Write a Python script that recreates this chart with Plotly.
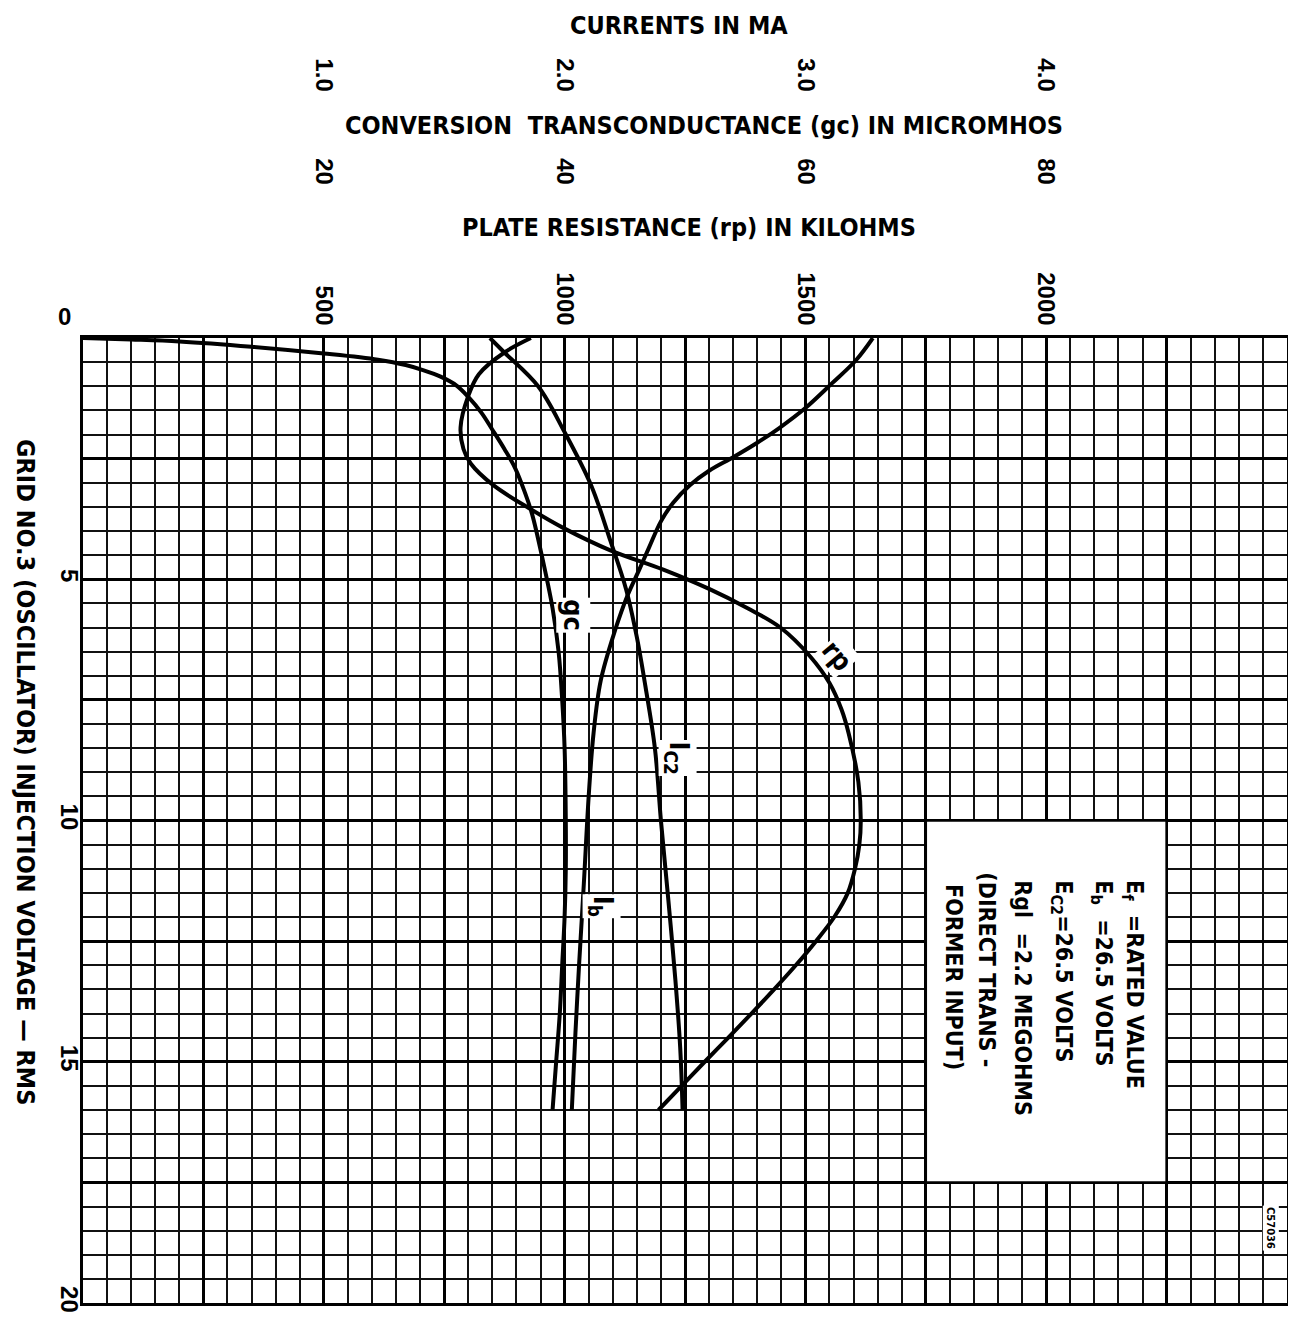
import plotly.graph_objects as go

# ---------------- data ----------------
# Grid No.3 injection voltage (V rms) vs each quantity
gc_v = [0, 0.03, 0.07, 0.18, 0.32, 0.45, 0.56, 0.67, 0.8, 0.98, 1.22, 1.55, 1.9, 2.3, 2.7,
        3.2, 3.65, 4.5, 5.6, 6.5, 7.5, 8.5, 10, 11, 12, 13, 14, 15, 16]
gc_umho = [0, 4, 8, 14, 20, 24.5, 26.8, 28.3, 29.7, 31, 32, 33.1, 34, 35, 35.9,
           36.7, 37.3, 38.1, 39, 39.5, 39.8, 40, 40.1, 40.1, 40, 39.8, 39.6, 39.3, 39]

ib_v = [0, 0.46, 0.94, 1.45, 1.87, 2.17, 2.47, 2.75, 3.05, 3.42, 3.8, 4.35, 4.8, 5.35,
        6.05, 7.1, 8.2, 9.5, 11.3, 13, 14.4, 16]
ib_ma = [3.28, 3.21, 3.11, 3.00, 2.89, 2.80, 2.70, 2.60, 2.52, 2.45, 2.40, 2.35, 2.31, 2.26,
         2.21, 2.15, 2.12, 2.10, 2.08, 2.06, 2.045, 2.03]

ic2_v = [0, 0.3, 1.0, 1.95, 3.05, 4.2, 5.2, 6.2, 7.2, 8.5, 10, 11.6, 13.3, 14.7, 16]
ic2_ma = [1.69, 1.75, 1.89, 2.00, 2.11, 2.19, 2.255, 2.30, 2.335, 2.375, 2.40, 2.43, 2.46, 2.48, 2.49]

rp_v = [0, 0.3, 0.75, 1.2, 1.85, 2.3, 2.6, 3.05, 3.55, 3.95, 4.4, 4.8, 5.2, 5.6, 6.0, 6.6,
        7.15, 7.7, 8.2, 9.2, 10, 10.5, 11, 11.5, 12, 12.5, 13, 13.5, 14, 14.5, 15, 15.5, 16]
rp_kohm = [930, 875, 822, 800, 784, 790, 805, 852, 930, 1000, 1095, 1205, 1300, 1380, 1448, 1510,
           1550, 1575, 1590, 1610, 1615, 1612, 1603, 1588, 1560, 1522, 1480, 1435, 1388, 1340,
           1291, 1243, 1195]

# axis ticks
rp_tickvals = [0, 250, 500, 750, 1000, 1250, 1500, 1750, 2000, 2250, 2500]
rp_ticktext = ["", "", "500", "", "1000", "", "1500", "", "2000", "", ""]
gc_tickvals = [20, 40, 60, 80]
gc_ticktext = ["20", "40", "60", "80"]
ma_tickvals = [1, 2, 3, 4]
ma_ticktext = ["1.0", "2.0", "3.0", "4.0"]
v_tickvals = [0, 2.5, 5, 7.5, 10, 12.5, 15, 17.5, 20]
v_ticktext = ["", "", "5", "", "10", "", "15", "", "20"]

conditions = [
    "E<sub>f</sub>\u00a0 =RATED VALUE",
    "E<sub>b</sub>\u00a0 =26.5 VOLTS",
    "E<sub>C2</sub>=26.5 VOLTS",
    "Rgl\u00a0 =2.2 MEGOHMS",
    "(DIRECT TRANS -",
    "FORMER INPUT)",
]

# ---------------- figure ----------------
HEAD = "Liberation Sans Narrow, DejaVu Sans Condensed, Liberation Sans, sans-serif"
NUM = "Liberation Sans, Arial, sans-serif"
BOLD = "bold"

fig = go.Figure()
line = dict(color="black", width=4, shape="spline", smoothing=1.0)
fig.add_trace(go.Scatter(x=rp_kohm, y=rp_v, mode="lines", line=line, xaxis="x", yaxis="y", name="rp"))
fig.add_trace(go.Scatter(x=gc_umho, y=gc_v, mode="lines", line=line, xaxis="x2", yaxis="y", name="gc"))
fig.add_trace(go.Scatter(x=ib_ma, y=ib_v, mode="lines", line=line, xaxis="x3", yaxis="y", name="Ib"))
fig.add_trace(go.Scatter(x=ic2_ma, y=ic2_v, mode="lines", line=line, xaxis="x3", yaxis="y", name="Ic2"))

tickfont = dict(family=NUM, size=24, color="black", weight=BOLD)

fig.update_layout(
    width=1280, height=1309,
    margin=dict(l=75, r=1, t=2, b=14, autoexpand=False),
    plot_bgcolor="white", paper_bgcolor="white",
    showlegend=False,
    xaxis=dict(
        range=[0, 2500], side="top", anchor="y", automargin=False,
        tickmode="array", tickvals=rp_tickvals, ticktext=rp_ticktext,
        tickangle=90, tickfont=tickfont, ticks="", ticklabelstandoff=1,
        showgrid=True, gridcolor="black", gridwidth=2.8,
        minor=dict(tickmode="linear", tick0=0, dtick=50, showgrid=True,
                   gridcolor="#111111", gridwidth=1.6),
        showline=True, linecolor="black", linewidth=3, mirror=True, zeroline=False,
    ),
    xaxis2=dict(
        range=[0, 100], overlaying="x", side="top", anchor="free", position=0.862,
        automargin=False,
        tickmode="array", tickvals=gc_tickvals, ticktext=gc_ticktext,
        tickangle=90, tickfont=tickfont, ticks="",
        showgrid=False, showline=False, zeroline=False,
    ),
    xaxis3=dict(
        range=[0, 5], overlaying="x", side="top", anchor="free", position=0.934,
        automargin=False,
        tickmode="array", tickvals=ma_tickvals, ticktext=ma_ticktext,
        tickangle=90, tickfont=tickfont, ticks="",
        showgrid=False, showline=False, zeroline=False,
    ),
    yaxis=dict(
        range=[20, 0], domain=[0, 0.7463], automargin=False,
        tickmode="array", tickvals=v_tickvals, ticktext=v_ticktext,
        tickangle=90, tickfont=tickfont, ticks="", ticklabelstandoff=-10,
        showgrid=True, gridcolor="black", gridwidth=2.8,
        minor=dict(tickmode="linear", tick0=0, dtick=0.5, showgrid=True,
                   gridcolor="#111111", gridwidth=1.6),
        showline=True, linecolor="black", linewidth=3, mirror=True, zeroline=False,
    ),
)

# conditions box
fig.add_shape(type="rect", xref="x", yref="y", x0=1750, x1=2250, y0=10, y1=17.5,
              fillcolor="white", line=dict(color="black", width=2.5), layer="above")

headfont = dict(family=HEAD, size=25, color="black", weight=BOLD)
fig.add_annotation(text="CURRENTS IN MA", x=0.495, y=1.0, xref="paper", yref="paper",
                   xanchor="center", yanchor="top", borderpad=0, showarrow=False, font=headfont)
ann = []
ann.append(dict(text="CONVERSION\u00a0 TRANSCONDUCTANCE (gc) IN MICROMHOS", x=0.5158, y=0.9103))
ann.append(dict(text="PLATE RESISTANCE (rp) IN KILOHMS", x=0.5033, y=0.8314))
for a in ann:
    fig.add_annotation(xref="paper", yref="paper", xanchor="center", yanchor="middle",
                       showarrow=False, font=headfont, **a)
fig.add_annotation(text="GRID NO.3 (OSCILLATOR) INJECTION VOLTAGE \u2014 RMS", xref="paper", yref="paper",
                   x=-0.0482, y=0.4107, textangle=90, showarrow=False, font=headfont,
                   xanchor="center", yanchor="middle")
fig.add_annotation(text="0", xref="paper", yref="paper", x=-0.015, y=0.7633, showarrow=False,
                   font=tickfont, xanchor="center", yanchor="middle")

# curve labels
lblfont = dict(family=HEAD, size=27, color="black", weight=BOLD)
curve_labels = [("gc", 1017, 5.74, 90), ("I<sub>C2</sub>", 1234, 8.7, 90),
                ("I<sub>b</sub>", 1077, 11.78, 90), ("rp", 1566, 6.57, 50)]
for t, xx, yy, ang in curve_labels:
    fig.add_annotation(text=t, x=xx, y=yy, xref="x", yref="y", textangle=ang, showarrow=False,
                       font=lblfont, bgcolor="white", borderpad=1)

# condition text lines (rotated, read top to bottom)
cond_x = [2180, 2114, 2031, 1950, 1878, 1809]
cond_y = [11.2, 11.2, 11.2, 11.2, 11.03, 11.28]
condfont = dict(family=HEAD, size=23, color="black", weight=BOLD)
for t, xx, yy in zip(conditions, cond_x, cond_y):
    fig.add_annotation(text=t, x=xx, y=yy, xref="x", yref="y", textangle=90, showarrow=False,
                       font=condfont, xanchor="center", yanchor="top")

fig.add_annotation(text="C57036", x=2467, y=18.45, xref="x", yref="y", textangle=90,
                   showarrow=False, font=dict(family=HEAD, size=11, color="black", weight=BOLD),
                   bgcolor="white")

fig.write_html("out.html")
